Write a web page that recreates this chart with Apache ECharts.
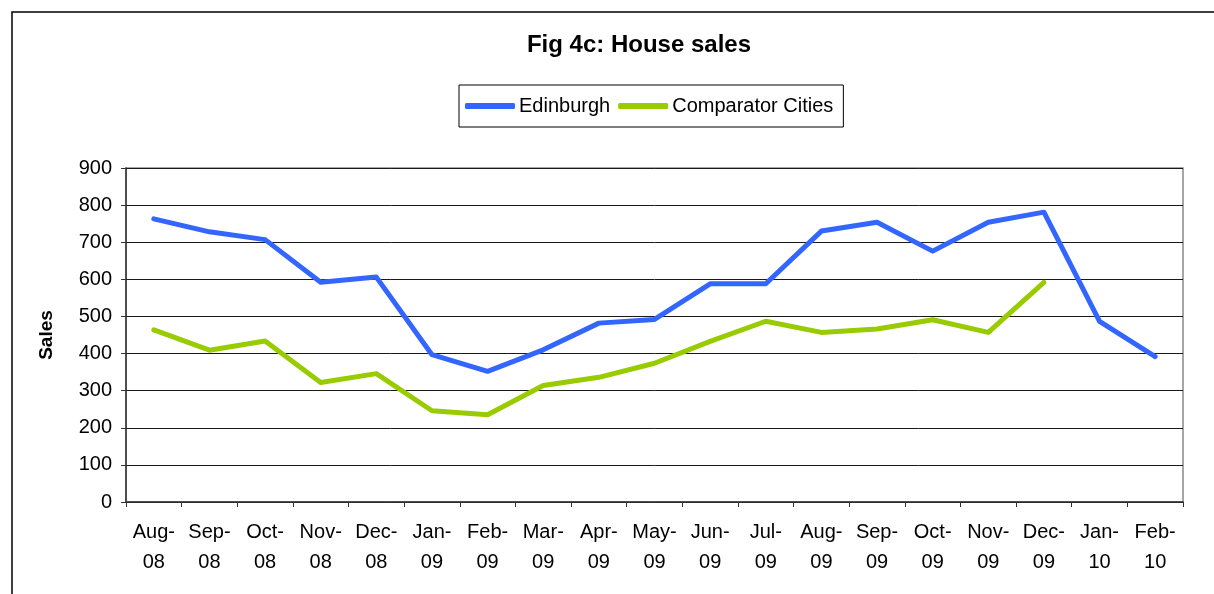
<!DOCTYPE html>
<html>
<head>
<meta charset="utf-8">
<script src="https://cdn.jsdelivr.net/npm/echarts@6/dist/echarts.min.js"></script>
<style>
  html, body { margin: 0; padding: 0; background: #fff; }
  #chart { width: 1214px; height: 594px; }
</style>
</head>
<body>
<div id="chart"></div>
<script>
// months on the x axis
const months = ['Aug-\n08', 'Sep-\n08', 'Oct-\n08', 'Nov-\n08', 'Dec-\n08', 'Jan-\n09', 'Feb-\n09',
  'Mar-\n09', 'Apr-\n09', 'May-\n09', 'Jun-\n09', 'Jul-\n09', 'Aug-\n09', 'Sep-\n09', 'Oct-\n09',
  'Nov-\n09', 'Dec-\n09', 'Jan-\n10', 'Feb-\n10'];

const edinburgh = [763, 728, 707, 592, 606, 397, 352, 410, 482, 492, 588, 588, 730, 754, 676, 754, 781, 487, 392];
const comparator = [464, 409, 434, 322, 346, 246, 235, 314, 336, 374, 433, 487, 457, 466, 491, 457, 592, null, null];

const font = 'Liberation Sans, Arial, sans-serif';

var chart = echarts.init(document.getElementById('chart'));

var option = {
  backgroundColor: '#fff',
  animation: false,
  graphic: [{
    type: 'rect',
    shape: { x: 12, y: 12, width: 1220, height: 600 },
    style: { fill: 'none', stroke: '#000', lineWidth: 1.5 }
  }],
  title: {
    text: 'Fig 4c: House sales',
    left: 634,
    textAlign: 'center',
    top: 28,
    textStyle: { fontFamily: font, fontSize: 24, fontWeight: 'bold', color: '#000' }
  },
  legend: {
    left: 459,
    top: 85,
    padding: [11, 10, 11, 6],
    borderColor: '#000',
    borderWidth: 1,
    itemGap: 8,
    itemWidth: 50,
    itemHeight: 6,
    icon: 'roundRect',
    textStyle: { fontFamily: font, fontSize: 20, color: '#000', padding: [0, 0, 0, -1] },
    data: ['Edinburgh', 'Comparator Cities']
  },
  grid: {
    left: 126,
    right: 31,
    top: 168,
    bottom: 92,
    show: true,
    borderColor: '#888',
    borderWidth: 1.5
  },
  xAxis: {
    type: 'category',
    data: months,
    boundaryGap: true,
    axisLine: { lineStyle: { color: '#333', width: 1.5 } },
    axisTick: { show: true, length: 5, lineStyle: { color: '#333' } },
    axisLabel: {
      interval: 0,
      margin: 15,
      color: '#000',
      fontFamily: font,
      fontSize: 20,
      lineHeight: 30
    }
  },
  yAxis: {
    type: 'value',
    min: 0,
    max: 900,
    interval: 100,
    name: 'Sales',
    nameLocation: 'middle',
    nameGap: 70,
    nameTextStyle: { fontFamily: font, fontSize: 19, fontWeight: 'bold', color: '#000' },
    axisLine: { show: true, lineStyle: { color: '#333', width: 1.5 } },
    axisTick: { show: true, length: 5, lineStyle: { color: '#333' } },
    axisLabel: { margin: 14, color: '#000', fontFamily: font, fontSize: 20 },
    splitLine: { lineStyle: { color: '#1a1a1a', width: 1 } }
  },
  series: [
    {
      name: 'Edinburgh',
      type: 'line',
      data: edinburgh,
      showSymbol: false,
      symbol: 'none',
      color: '#3366FF',
      lineStyle: { width: 5, cap: 'round', join: 'round' }
    },
    {
      name: 'Comparator Cities',
      type: 'line',
      data: comparator,
      showSymbol: false,
      symbol: 'none',
      color: '#99CC00',
      lineStyle: { width: 5, cap: 'round', join: 'round' }
    }
  ]
};

chart.setOption(option);
</script>
</body>
</html>
